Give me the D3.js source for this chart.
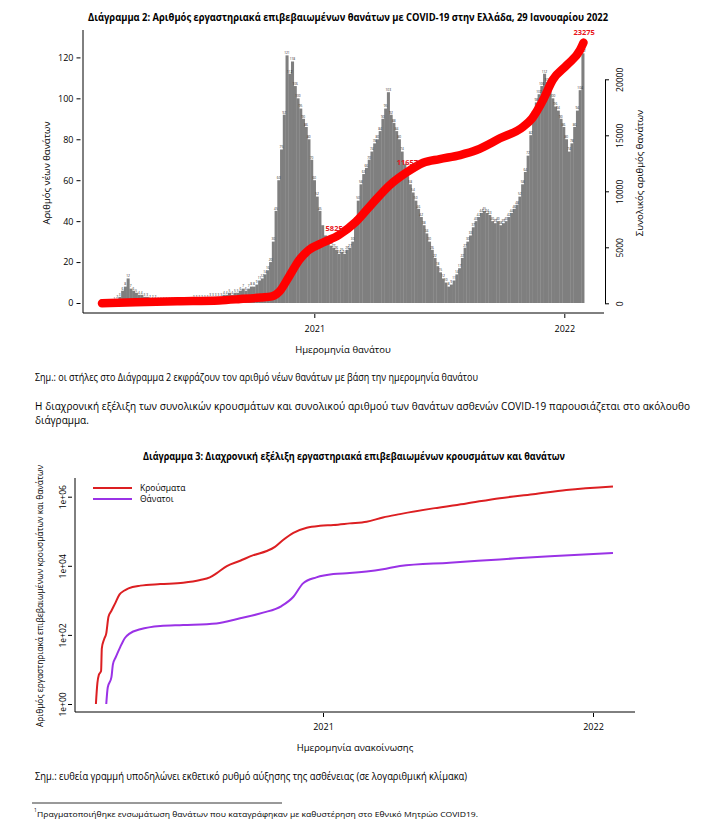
<!DOCTYPE html>
<html><head><meta charset="utf-8">
<script src="https://cdn.jsdelivr.net/npm/d3@7"></script>
<style>body{margin:0;background:#fff} svg{display:block} text{font-family:"Open Sans",sans-serif}</style>
</head><body><svg id="c" width="716" height="829"></svg>
<script>
// ---------- DATA: Chart "Διάγραμμα 2" ----------
const deathBinStart = "2020-02-26";
const deathBinDays = 4;
const newDeaths = [
 0,0,0,0, 1,2,3, 6,8,12,7,6, 5,4,4,3,3,
 2,2,2,1,1,1,1,1,1,1,1,1,1,1,1,1,2,2,2,2,2,2,3,3,3,3,
 3,4,4,5,4,5, 5,6,7,6,7,8,8, 9,11,12,14,16,20,
 30,45,60,75,92,121, 112,118,106,100,95,90,86,80,
 70,60,52,45,38,33,30,28,27,26,24,25,24,26,27,30,
 40,50,58,63,66,70,74,78,80,84,90,95,103,92,88,84,80,
 74,68,62,58,54,50,46,42,38,34,30,26,22,18,15,12,10,8,
 9,11,14,17,22,27,30,33,37,40,42,44,45,44,43,40,39,40,38,39,40,42,44,46,48,
 52,58,64,72,82,92,98,102,106,112,108,104,100,96,94,90,86,80,74,78,86,94,104,122
];
const cumDates = ["2020-02-26","2020-04-15","2020-06-15","2020-08-15","2020-09-15","2020-10-15","2020-10-31",
 "2020-11-11","2020-11-25","2020-12-10","2020-12-24","2021-01-13","2021-02-06","2021-03-03","2021-03-27",
 "2021-04-22","2021-05-16","2021-06-09","2021-07-03","2021-08-02","2021-08-26","2021-09-29","2021-11-02",
 "2021-11-15","2021-12-01","2021-12-15","2022-01-05","2022-01-24","2022-01-29"];
const cumDeaths = [0,100,190,260,380,520,620,1040,2380,3870,4760,5400,6100,7290,8930,10600,11700,12550,12880,
 13240,13690,14730,15770,16520,18150,19940,21280,22620,23275];
const cumLabelDates = ["2021-01-30","2021-05-17","2022-01-30"];
const cumLabelValues = [5825, 11657, 23275];
const leftTicks = [0,20,40,60,80,100,120];
const rightTicks = [0,5000,10000,15000,20000];
const yearTickDates = ["2021-01-01","2022-01-01"];
const yearTickLabels = ["2021","2022"];

// ---------- DATA: Chart "Διάγραμμα 3" ----------
const caseDates = ["2020-02-29","2020-03-02","2020-03-04","2020-03-07","2020-03-08","2020-03-11","2020-03-14",
 "2020-03-17","2020-03-21","2020-03-26","2020-04-01","2020-04-07","2020-04-13","2020-04-29","2020-05-26",
 "2020-06-26","2020-07-19","2020-08-01","2020-08-10","2020-08-24","2020-09-11","2020-09-29","2020-10-17",
 "2020-10-28","2020-11-08","2020-11-22","2020-12-10","2020-12-28","2021-01-15","2021-02-06","2021-03-01",
 "2021-03-23","2021-04-15","2021-05-30","2021-07-14","2021-08-28","2021-10-12","2021-11-26","2022-01-28"];
const caseValues = [1,4,7,9,41,74,111,335,500,820,1490,1890,2230,2670,2960,3230,3870,4640,6050,9850,14000,
 20300,26800,35300,55700,90000,126000,144000,152000,169000,189000,251000,313000,459000,640000,906000,
 1180000,1570000,1980000];
const deathDates = ["2020-03-14","2020-03-16","2020-03-21","2020-03-23","2020-03-27","2020-04-02","2020-04-08",
 "2020-04-15","2020-04-29","2020-05-26","2020-06-26","2020-08-10","2020-09-11","2020-10-12","2020-11-06",
 "2020-11-22","2020-12-05","2020-12-23","2021-01-15","2021-02-06","2021-03-01","2021-03-23","2021-04-15",
 "2021-06-21","2021-08-28","2021-11-04","2022-01-28"];
const deathValues = [1,3,6,14,23,45,80,111,145,181,193,215,303,440,685,1270,3100,4640,5800,6150,6800,7900,9850,
 12300,15300,19000,23500];
const logTicks = [1,100,10000,1000000];
const logTickLabels = ["1e+00","1e+02","1e+04","1e+06"];
const legendLabels = ["Κρούσματα","Θάνατοι"];
const seriesColors = ["#dc1f22","#9a32e6"];

// ---------- DRAW ----------
const parse = d3.utcParse("%Y-%m-%d");
const svg = d3.select("#c");

function txt(x,y,s,opt={}){
  const t = svg.append("text").attr("x",x).attr("y",y).text(s)
    .attr("font-size",opt.size||10).attr("fill",opt.fill||"#000")
    .attr("text-anchor",opt.anchor||"start");
  if(opt.bold) t.attr("font-weight","bold");
  if(opt.len) t.attr("textLength",opt.len).attr("lengthAdjust",opt.adj||"spacingAndGlyphs");
  if(opt.rot) t.attr("x",0).attr("y",0).attr("transform",`translate(${x},${y}) rotate(-90)`);
  return t;
}

// ===== Chart 1 =====
txt(348,20.5,"Διάγραμμα 2: Αριθμός εργαστηριακά επιβεβαιωμένων θανάτων με COVID-19 στην Ελλάδα, 29 Ιανουαρίου 2022",
  {size:11,bold:true,anchor:"middle",len:520});

const x1 = d3.scaleUtc().domain([parse("2021-01-01"),parse("2022-01-01")]).range([314.3,564.3]);
const y1 = d3.scaleLinear().domain([0,120]).range([303,57.4]);
const yR = d3.scaleLinear().domain([0,20000]).range([303.3,79.3]);

const redLabels = cumLabelDates.map((d,i)=>({x:x1(parse(d)),y:yR(cumLabelValues[i])-7.3,v:cumLabelValues[i]}));
const clashes = (x,y)=>redLabels.some(r=>Math.abs(x-r.x)<13 && y>r.y-8 && y<r.y+4);

const start = parse(deathBinStart);
const bins = newDeaths.map((v,i)=>({d0:d3.utcDay.offset(start,i*deathBinDays),d1:d3.utcDay.offset(start,(i+1)*deathBinDays),v}));
const g1 = svg.append("g");
g1.selectAll("rect").data(bins).join("rect")
  .attr("x",d=>x1(d.d0)).attr("width",d=>x1(d.d1)-x1(d.d0)+0.3)
  .attr("y",d=>y1(d.v)).attr("height",d=>y1(0)-y1(d.v)).attr("fill","#7f7f7f");
g1.selectAll("text.lab").data(bins.filter(d=>!clashes((x1(d.d0)+x1(d.d1))/2,y1(d.v)-1.2))).join("text").attr("class","lab")
  .attr("x",d=>(x1(d.d0)+x1(d.d1))/2).attr("y",d=>y1(d.v)-1.2)
  .attr("text-anchor","middle").attr("font-size",3.2).attr("fill","#1e1e1e").text(d=>d.v);

svg.append("path").attr("d","M83,30V313H604").attr("fill","none").attr("stroke","#000").attr("stroke-width",1);

const axL = svg.append("g").attr("transform","translate(80.5,0)")
  .call(d3.axisLeft(y1).tickValues(leftTicks).tickSize(4).tickPadding(3));
axL.select(".domain").remove();
axL.selectAll("text").attr("font-size",9).attr("font-family",'"Open Sans",sans-serif');
const axB = svg.append("g").attr("transform","translate(0,314)")
  .call(d3.axisBottom(x1).tickValues(yearTickDates.map(parse)).tickFormat((d,i)=>yearTickLabels[i]).tickSize(4).tickPadding(8));
axB.select(".domain").remove();
axB.selectAll("text").attr("font-size",9).attr("font-family",'"Open Sans",sans-serif');
const axR = svg.append("g").attr("transform","translate(605,0)")
  .call(d3.axisRight(yR).tickValues(rightTicks).tickSize(4).tickSizeOuter(0).tickFormat(d3.format("d")));
axR.selectAll("text").attr("x",null).attr("dy",null).attr("text-anchor","middle")
  .attr("transform","translate(17.5,0) rotate(-90)").attr("font-size",8.5).attr("font-family",'"Open Sans",sans-serif');

const cum = cumDates.map((d,i)=>({date:parse(d),v:cumDeaths[i]}));
svg.append("path").datum(cum)
  .attr("d",d3.line().x(d=>x1(d.date)).y(d=>yR(d.v)).curve(d3.curveMonotoneX))
  .attr("fill","none").attr("stroke","#ff0000").attr("stroke-width",8.5)
  .attr("stroke-linecap","round").attr("stroke-linejoin","round");
redLabels.forEach(r=>{
  svg.append("text").attr("x",r.x).attr("y",r.y)
    .attr("text-anchor","middle").attr("font-size",7.5).attr("font-weight","bold")
    .attr("fill","#e8141b").text(r.v);
});

txt(50,173,"Αριθμός νέων θανάτων",{size:9.5,anchor:"middle",rot:true});
txt(643,173,"Συνολικός αριθμός θανάτων",{size:9.5,anchor:"middle",rot:true});
txt(343,353,"Ημερομηνία θανάτου",{size:9.5,anchor:"middle"});

// ===== Text blocks =====
txt(35,381,"Σημ.: οι στήλες στο Διάγραμμα 2 εκφράζουν τον αριθμό νέων θανάτων με βάση την ημερομηνία θανάτου",{size:10,len:443});
txt(35,410,"Η διαχρονική εξέλιξη των συνολικών κρουσμάτων και συνολικού αριθμού των θανάτων ασθενών COVID-19 παρουσιάζεται στο ακόλουθο",{size:10,len:655,adj:"spacing"});
txt(35,424,"διάγραμμα.",{size:10});

// ===== Chart 2 =====
txt(354,459.5,"Διάγραμμα 3: Διαχρονική εξέλιξη εργαστηριακά επιβεβαιωμένων κρουσμάτων και θανάτων",
  {size:10,bold:true,anchor:"middle",len:422});
const x2 = d3.scaleUtc().domain([parse("2021-01-01"),parse("2022-01-01")]).range([323,593]);
const y2 = d3.scaleLog().domain([1,1e6]).range([704,496.7]);

svg.append("path").attr("d","M75,478V712H635").attr("fill","none").attr("stroke","#000").attr("stroke-width",1);
const axL2 = svg.append("g").attr("transform","translate(72,0)")
  .call(d3.axisLeft(y2).tickValues(logTicks).tickSize(4).tickFormat((d,i)=>logTickLabels[i]));
axL2.select(".domain").remove();
axL2.selectAll("text").attr("x",null).attr("dy",null).attr("text-anchor","middle")
  .attr("transform","translate(-6,0) rotate(-90)").attr("font-size",8.5).attr("font-family",'"Open Sans",sans-serif');
const axB2 = svg.append("g").attr("transform","translate(0,713)")
  .call(d3.axisBottom(x2).tickValues(yearTickDates.map(parse)).tickFormat((d,i)=>yearTickLabels[i]).tickSize(4).tickPadding(7));
axB2.select(".domain").remove();
axB2.selectAll("text").attr("font-size",9).attr("font-family",'"Open Sans",sans-serif');

const lineG = d3.line().x(d=>x2(d.date)).y(d=>y2(d.v)).curve(d3.curveMonotoneX);
const cases = caseDates.map((d,i)=>({date:parse(d),v:caseValues[i]}));
const deaths = deathDates.map((d,i)=>({date:parse(d),v:deathValues[i]}));
[cases,deaths].forEach((s,i)=>{
  svg.append("path").datum(s).attr("d",lineG).attr("fill","none")
    .attr("stroke",seriesColors[i]).attr("stroke-width",2);
});
legendLabels.forEach((l,i)=>{
  const yy = 488 + i*11;
  svg.append("line").attr("x1",93).attr("x2",132).attr("y1",yy).attr("y2",yy)
    .attr("stroke",seriesColors[i]).attr("stroke-width",2);
  txt(140,yy+3,l,{size:8.5});
});
txt(43,596,"Αριθμός εργαστηριακά επιβεβαιωμένων κρουσμάτων και θανάτων",{size:9,anchor:"middle",rot:true,len:262});
txt(355,751,"Ημερομηνία ανακοίνωσης",{size:9.5,anchor:"middle"});

txt(35,779.5,"Σημ.: ευθεία γραμμή υποδηλώνει εκθετικό ρυθμό αύξησης της ασθένειας (σε λογαριθμική κλίμακα)",{size:10,len:432});
svg.append("line").attr("x1",32).attr("x2",282).attr("y1",803).attr("y2",803).attr("stroke","#000").attr("stroke-width",0.8);
txt(34,812,"1",{size:5});
txt(37,816.5,"Πραγματοποιήθηκε ενσωμάτωση θανάτων που καταγράφηκαν με καθυστέρηση στο Εθνικό Μητρώο COVID19.",{size:8,len:441});
</script></body></html>
